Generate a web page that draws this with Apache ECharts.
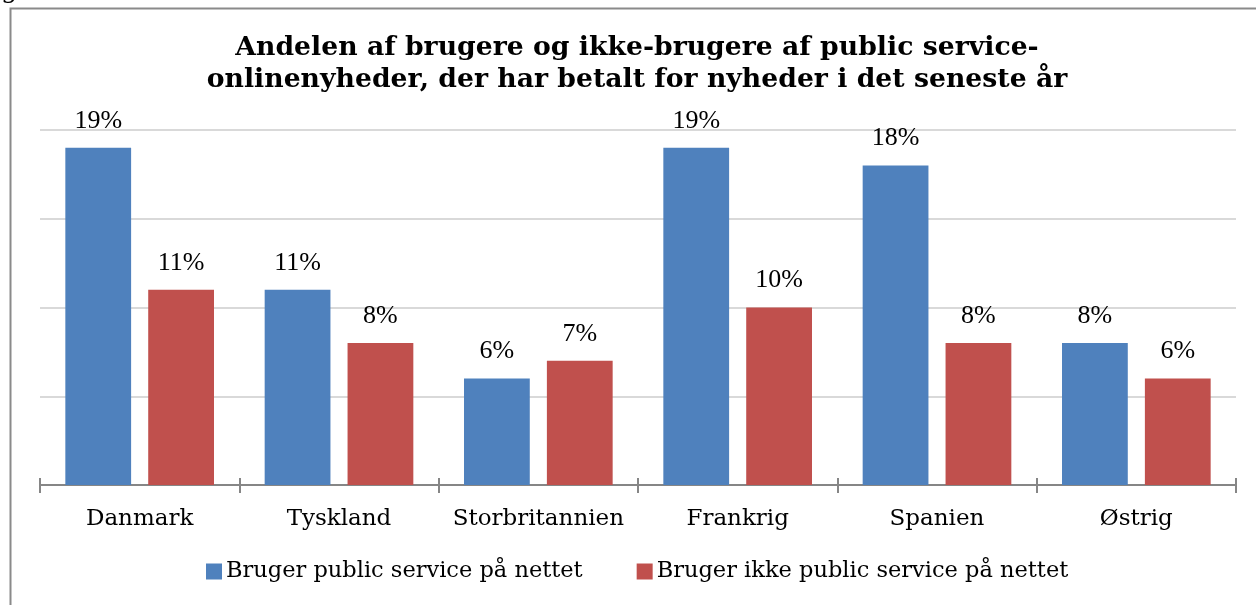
<!DOCTYPE html>
<html>
<head>
<meta charset="utf-8">
<script src="https://cdn.jsdelivr.net/npm/echarts@6/dist/echarts.min.js"></script>
<style>html,body{margin:0;padding:0;background:#fff}#c{width:1256px;height:605px}</style>
</head>
<body>
<div id="c"></div>
<script>
const titleText = 'Andelen af brugere og ikke-brugere af public service-\nonlinenyheder, der har betalt for nyheder i det seneste år';
const categories = ['Danmark', 'Tyskland', 'Storbritannien', 'Frankrig', 'Spanien', 'Østrig'];
const seriesNames = ['Bruger public service på nettet', 'Bruger ikke public service på nettet'];
const usersValues = [19, 11, 6, 19, 18, 8];
const nonUsersValues = [11, 8, 7, 10, 8, 6];

const SERIF = '"Liberation Serif", serif';
const WIDE = '"DejaVu Serif", "Liberation Serif", serif';
const chart = echarts.init(document.getElementById('c'), null, {renderer: 'canvas'});
const labelCfg = {
  show: true, position: 'top', distance: 14,
  formatter: p => p.value + '%',
  fontFamily: SERIF, fontSize: 26, color: '#000'
};
chart.setOption({
  animation: false,
  title: {
    text: titleText, left: 637, top: 32, padding: 0, textAlign: 'center',
    textStyle: {fontFamily: WIDE, fontWeight: 'bold', fontSize: 26.7, lineHeight: 32, color: '#000'}
  },
  legend: {
    bottom: 17, left: 201,
    itemWidth: 16, itemHeight: 16, itemGap: 54,
    icon: 'rect',
    textStyle: {fontFamily: WIDE, fontSize: 22.5, color: '#000', padding: [0, 0, 0, -1]},
    data: seriesNames
  },
  graphic: [
    {type: 'rect', shape: {x: 10.5, y: 8.5, width: 1400, height: 800}, style: {fill: 'none', stroke: '#8a8a8a', lineWidth: 2}, silent: true},
    {type: 'text', left: 1, top: -22, style: {text: 'g', fontFamily: WIDE, fontSize: 26, fill: '#000'}}
  ],
  grid: {left: 40, right: 20, top: 130, bottom: 120, containLabel: false},
  xAxis: [{
    type: 'category', data: categories,
    axisLine: {lineStyle: {color: '#868686', width: 2}},
    axisTick: {show: true, length: 8, lineStyle: {color: '#868686', width: 2}},
    axisLabel: {interval: 0, fontFamily: WIDE, fontSize: 23, color: '#000', margin: 23}
  }, {
    type: 'category', data: categories, position: 'bottom',
    axisLine: {show: false},
    axisTick: {show: true, inside: true, length: 7, lineStyle: {color: '#868686', width: 2}},
    axisLabel: {show: false}
  }],
  yAxis: {
    type: 'value', min: 0, max: 20, interval: 5,
    axisLabel: {show: false}, axisLine: {show: false}, axisTick: {show: false},
    splitLine: {lineStyle: {color: '#d9d9d9', width: 2}}
  },
  series: [
    {name: seriesNames[0], type: 'bar', data: usersValues, barWidth: '33%', barGap: '26%',
     itemStyle: {color: '#4F81BD'}, label: labelCfg},
    {name: seriesNames[1], type: 'bar', data: nonUsersValues, barWidth: '33%', barGap: '26%',
     itemStyle: {color: '#C0504D'}, label: labelCfg}
  ]
});
</script>
</body>
</html>
